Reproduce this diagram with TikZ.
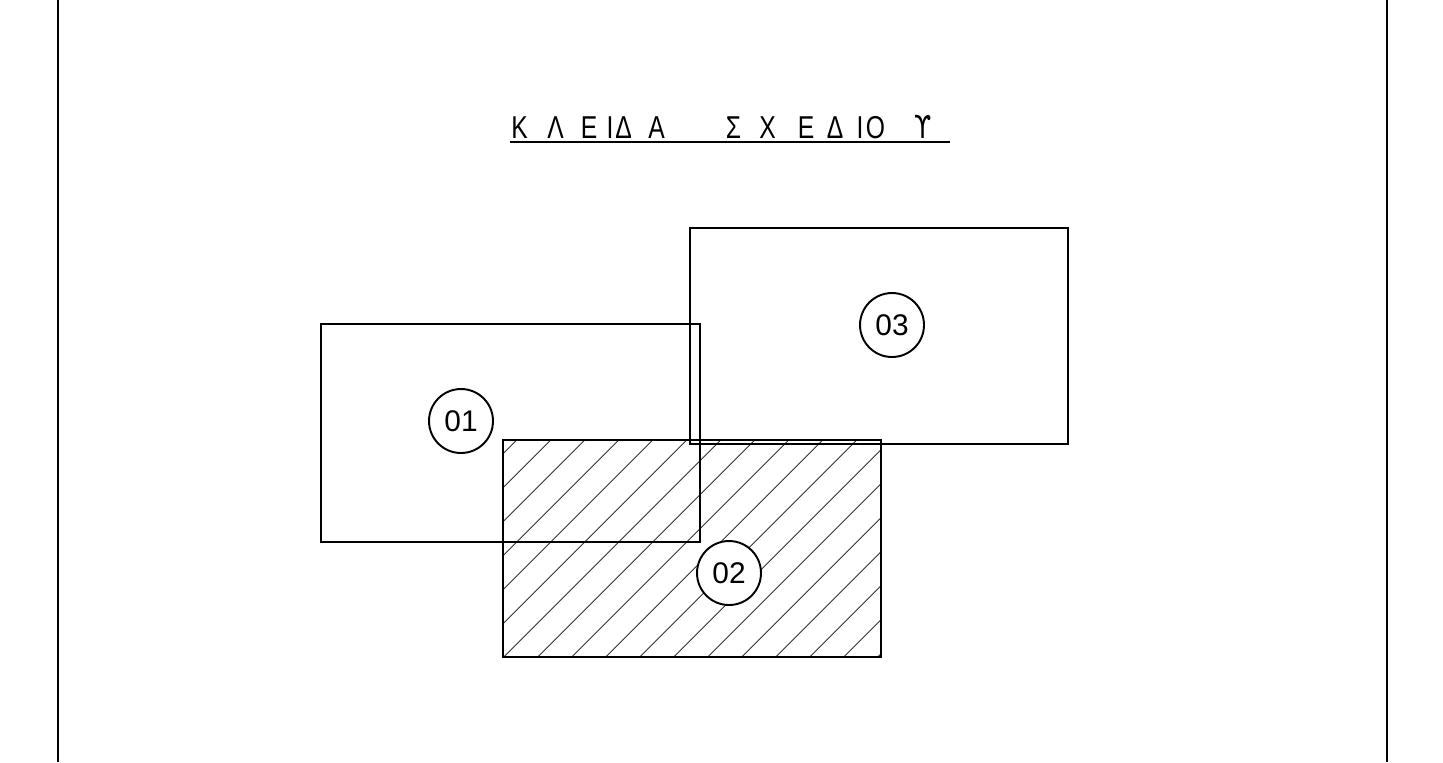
\documentclass[tikz,border=0pt]{standalone}
\usepackage{fontspec}
\setmainfont{Liberation Sans}
\newfontfamily\titlefont[FakeStretch=0.78]{Liberation Sans}
\newfontfamily\upsfont[FakeStretch=0.78]{DejaVu Sans}

\begin{document}
\begin{tikzpicture}[x=0.02cm,y=-0.02cm,
		frame/.style={line width=1.3pt},
		box/.style={line width=1.1pt},
		hatchline/.style={line width=0.5pt,black!80},
		tag/.style={circle,draw,line width=1.1pt,fill=white,minimum size=1.28cm,inner sep=0pt,font=\fontsize{17}{19}\selectfont},
		letter/.style={anchor=base,inner sep=0pt,font=\titlefont\fontsize{18}{20}\selectfont}]
		\useasboundingbox (0,0) rectangle (1443,762);
		% sheet edges
		\draw[frame] (58,0) -- (58,762);
		\draw[frame] (1387,0) -- (1387,762);
		% title
		\foreach \ch/\xx [count=\i] in {Κ/519.5,Λ/555.5,Ε/589,Ι/610,Δ/623.5,Α/656.5,Σ/733.5,Χ/767.5,Ε/806,Δ/835,Ι/860,Ο/875.5,{\upsfont ϒ}/923}
			\node[letter] (t\i) at (\xx,138) {\ch};
		\draw[box] (510,142) -- (950,142);
		% hatched sheet
		\begin{scope}
			\clip (503,440) rectangle (881,657);
			\foreach \c in {0,...,17}
				\draw[hatchline] ({956.7+34*\c-400},400) -- ({956.7+34*\c-700},700);
		\end{scope}
		% sheets
		\draw[box] (321,324) rectangle (700,542);
		\draw[box] (503,440) rectangle (881,657);
		\draw[box] (690,228) rectangle (1068,444);
		% sheet numbers
		\node[tag] (o1) at (461,421) {01};
		\node[tag] (o2) at (729,573) {02};
		\node[tag] (o3) at (892,325) {03};
	\end{tikzpicture}
\end{document}
